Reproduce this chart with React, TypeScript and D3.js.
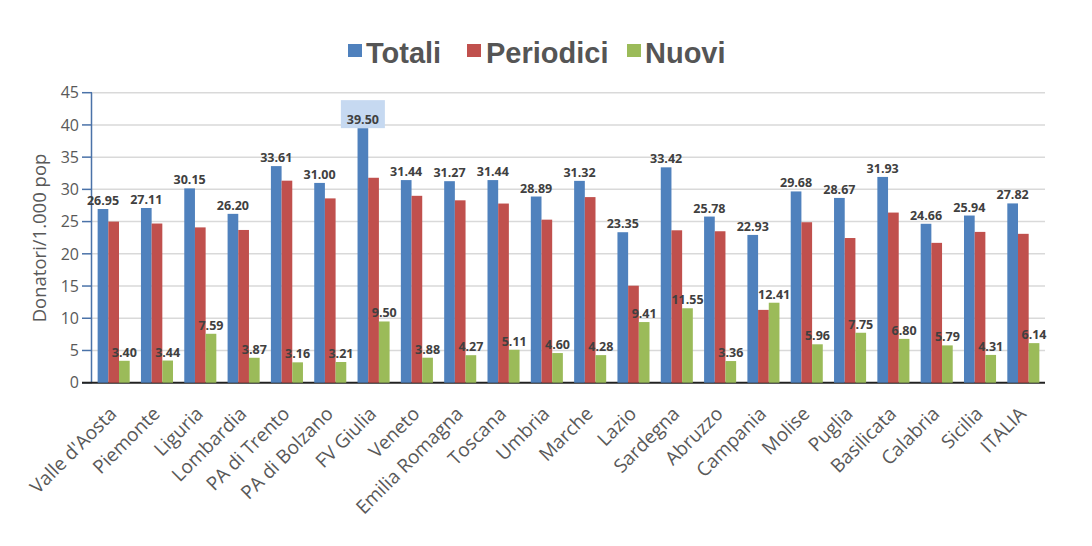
import React from "react";
import * as d3 from "d3";

const categories = [
  "Valle d'Aosta", "Piemonte", "Liguria", "Lombardia", "PA di Trento", "PA di Bolzano",
  "FV Giulia", "Veneto", "Emilia Romagna", "Toscana", "Umbria", "Marche", "Lazio",
  "Sardegna", "Abruzzo", "Campania", "Molise", "Puglia", "Basilicata", "Calabria",
  "Sicilia", "ITALIA",
];
const totali = [26.95, 27.11, 30.15, 26.2, 33.61, 31.0, 39.5, 31.44, 31.27, 31.44, 28.89, 31.32, 23.35, 33.42, 25.78, 22.93, 29.68, 28.67, 31.93, 24.66, 25.94, 27.82];
const periodici = [25.0, 24.7, 24.1, 23.7, 31.35, 28.6, 31.8, 29.0, 28.3, 27.8, 25.3, 28.8, 15.05, 23.65, 23.5, 11.3, 24.9, 22.45, 26.4, 21.7, 23.4, 23.1];
const nuovi = [3.4, 3.44, 7.59, 3.87, 3.16, 3.21, 9.5, 3.88, 4.27, 5.11, 4.6, 4.28, 9.41, 11.55, 3.36, 12.41, 5.96, 7.75, 6.8, 5.79, 4.31, 6.14];
const seriesNames = ["Totali", "Periodici", "Nuovi"];
const seriesColors = ["#4f81bd", "#c0504d", "#9bbb59"];
const yTicks = [0, 5, 10, 15, 20, 25, 30, 35, 40, 45];
const highlighted = "FV Giulia";

export default function App() {
  const W = 1092, H = 546;
  const left = 92, right = 1045, top = 92.7, bottom = 382.7;
  const y = d3.scaleLinear().domain([0, 45]).range([bottom, top]);
  const x0 = d3.scaleBand().domain(categories).range([left, right]).paddingInner(0.26).paddingOuter(0.13);
  const x1 = d3.scaleBand().domain(seriesNames).range([0, x0.bandwidth()]);
  const data = [totali, periodici, nuovi];
  const font = "'Open Sans', sans-serif";
  const labelFont = "'Open Sans', sans-serif";

  const legendItems = [
    { name: "Totali", sx: 348, tx: 366 },
    { name: "Periodici", sx: 467, tx: 486 },
    { name: "Nuovi", sx: 627, tx: 645 },
  ];

  return (
    <svg width={W} height={H} style={{ position: "absolute", left: 0, top: 0, background: "#fff" }} fontFamily={font}>
      <rect x={0} y={0} width={W} height={H} fill="#fff" />
      {/* legend */}
      {legendItems.map((it, i) => (
        <g key={it.name}>
          <rect x={it.sx} y={44} width={14} height={13} fill={seriesColors[i]} />
          <text x={it.tx} y={63.3} fontSize={29} fontWeight="bold" fill="#555555" fontFamily="'Liberation Sans', Arial, sans-serif">{it.name}</text>
        </g>
      ))}
      {/* gridlines */}
      {yTicks.filter(t => t > 0).map(t => (
        <line key={t} x1={left} x2={right} y1={y(t)} y2={y(t)} stroke="#d9d9d9" strokeWidth={1.5} />
      ))}
      {/* y axis */}
      <line x1={left - 0.5} x2={left - 0.5} y1={top} y2={bottom} stroke="#4a72a8" strokeWidth={1.5} />
      {yTicks.map(t => (
        <g key={t}>
          <line x1={left - 10} x2={left} y1={y(t)} y2={y(t)} stroke="#4a72a8" strokeWidth={1.5} />
          <text x={left - 13} y={y(t)} dy="0.36em" textAnchor="end" fontSize={16} fill="#595959">{t}</text>
        </g>
      ))}
      <text transform={`translate(46, ${238}) rotate(-90)`} textAnchor="middle" fontSize={18.5} fill="#595959">Donatori/1.000 pop</text>
      {/* x axis */}
      <line x1={left - 10} x2={right} y1={bottom} y2={bottom} stroke="#222" strokeWidth={2} />
      {/* bars */}
      {categories.map((c, ci) => (
        <g key={c} transform={`translate(${x0(c)},0)`}>
          {seriesNames.map((s, si) => {
            const v = data[si][ci];
            return (
              <rect key={s} x={x1(s)} y={y(v)} width={x1.bandwidth()} height={bottom - y(v)} fill={seriesColors[si]} />
            );
          })}
        </g>
      ))}
      {/* labels */}
      {categories.map((c, ci) => {
        const gx = x0(c) as number;
        const tx = gx + (x1("Totali") as number) + x1.bandwidth() / 2;
        const nx = gx + (x1("Nuovi") as number) + x1.bandwidth() / 2;
        const tv = totali[ci];
        const nv = nuovi[ci];
        return (
          <g key={c}>
            {c === highlighted && (
              <rect x={tx - 22} y={y(tv) - 28} width={44} height={28} fill="#c6d9f1" />
            )}
            <text x={tx} y={y(tv) - 4} textAnchor="middle" fontSize={12.5} fontWeight="bold" fill="#404040" fontFamily={labelFont}>{tv.toFixed(2)}</text>
            <text x={nx} y={y(nv) - 4} textAnchor="middle" fontSize={12.5} fontWeight="bold" fill="#404040" fontFamily={labelFont}>{nv.toFixed(2)}</text>
          </g>
        );
      })}
      {/* category labels */}
      {categories.map(c => {
        const cx = (x0(c) as number) + x0.bandwidth() / 2;
        return (
          <text key={c} transform={`translate(${cx + 4}, ${415}) rotate(-45)`} textAnchor="end" fontSize={19} fill="#595959">{c}</text>
        );
      })}
    </svg>
  );
}
